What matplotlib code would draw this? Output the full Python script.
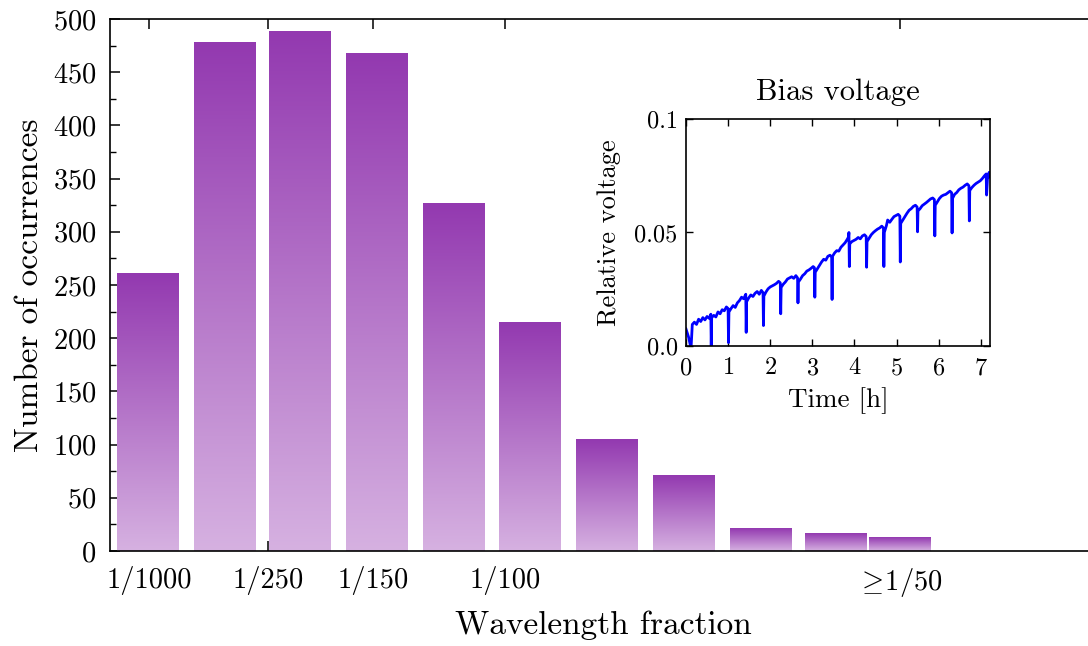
import numpy as np
import matplotlib
matplotlib.use('Agg')
import matplotlib.pyplot as plt
from matplotlib.colors import LinearSegmentedColormap

plt.rcParams['font.family'] = 'serif'
plt.rcParams['font.serif'] = ['cmr10']
plt.rcParams['mathtext.fontset'] = 'cm'
plt.rcParams['axes.formatter.use_mathtext'] = True

# histogram of wavelength fractions
bin_centers = [0.00094, 0.00289, 0.00481, 0.00676, 0.00871, 0.01063,
               0.01258, 0.01451, 0.01646, 0.01838, 0.0200]
counts = [261, 478, 488, 468, 327, 215, 105, 71, 21, 16, 13]
tick_values = [1 / 1000, 1 / 250, 1 / 150, 1 / 100, 1 / 50]
tick_labels = ['1/1000', '1/250', '1/150', '1/100', r'$\geq\!$1/50']

# bias voltage drift (inset)
time_h = [0.00, 0.06, 0.12, 0.15, 0.20, 0.25, 0.30, 0.35, 0.40, 0.45, 0.50, 0.55, 0.59,
          0.60, 0.61, 0.66, 0.71, 0.76, 0.81, 0.86, 0.91, 0.96, 1.00,
          1.01, 1.02, 1.07, 1.12, 1.17, 1.22, 1.27, 1.32, 1.37, 1.42,
          1.43, 1.44, 1.49, 1.54, 1.59, 1.64, 1.69, 1.74, 1.79, 1.83,
          1.84, 1.85, 1.90, 1.95, 2.00, 2.05, 2.10, 2.15, 2.20, 2.24,
          2.25, 2.26, 2.31, 2.36, 2.41, 2.46, 2.51, 2.56, 2.61, 2.65,
          2.66, 2.67, 2.72, 2.77, 2.82, 2.87, 2.92, 2.97, 3.02, 3.05,
          3.06, 3.07, 3.12, 3.17, 3.22, 3.27, 3.32, 3.37, 3.42, 3.46,
          3.47, 3.48, 3.53, 3.58, 3.63, 3.68, 3.73, 3.78, 3.83, 3.86, 3.87,
          3.88, 3.89, 3.94, 3.99, 4.04, 4.09, 4.14, 4.19, 4.24, 4.28,
          4.29, 4.30, 4.35, 4.40, 4.45, 4.50, 4.55, 4.60, 4.65, 4.69,
          4.70, 4.71, 4.76, 4.79, 4.84, 4.89, 4.94, 4.99, 5.04, 5.08,
          5.09, 5.10, 5.15, 5.20, 5.25, 5.30, 5.35, 5.40, 5.45, 5.49,
          5.50, 5.51, 5.56, 5.61, 5.66, 5.71, 5.76, 5.81, 5.86, 5.90,
          5.91, 5.92, 5.97, 6.02, 6.07, 6.12, 6.17, 6.22, 6.27, 6.31,
          6.32, 6.33, 6.38, 6.43, 6.48, 6.53, 6.58, 6.63, 6.68, 6.72,
          6.73, 6.74, 6.79, 6.84, 6.89, 6.94, 6.99, 7.04, 7.09, 7.13,
          7.14, 7.16, 7.20, 7.22]
rel_voltage = [0.0075, 0.0040, -0.0010, 0.0095, 0.0105, 0.0095, 0.0118, 0.0108, 0.0125, 0.0115, 0.0130, 0.0122, 0.0140,
               0.0000, 0.0125, 0.0135, 0.0128, 0.0150, 0.0142, 0.0160, 0.0155, 0.0172, 0.0165,
               0.0015, 0.0150, 0.0165, 0.0178, 0.0170, 0.0190, 0.0200, 0.0215, 0.0208, 0.0228,
               0.0060, 0.0195, 0.0212, 0.0225, 0.0218, 0.0232, 0.0240, 0.0228, 0.0245, 0.0235,
               0.0090, 0.0220, 0.0238, 0.0252, 0.0260, 0.0265, 0.0270, 0.0276, 0.0285, 0.0278,
               0.0142, 0.0258, 0.0272, 0.0282, 0.0295, 0.0300, 0.0305, 0.0298, 0.0310, 0.0300,
               0.0190, 0.0282, 0.0295, 0.0310, 0.0318, 0.0330, 0.0335, 0.0342, 0.0350, 0.0345,
               0.0215, 0.0325, 0.0340, 0.0355, 0.0370, 0.0382, 0.0378, 0.0395, 0.0400, 0.0392,
               0.0205, 0.0395, 0.0410, 0.0420, 0.0418, 0.0435, 0.0445, 0.0455, 0.0470, 0.0480, 0.0500,
               0.0350, 0.0450, 0.0460, 0.0465, 0.0470, 0.0478, 0.0472, 0.0485, 0.0490, 0.0482,
               0.0347, 0.0460, 0.0475, 0.0490, 0.0500, 0.0508, 0.0515, 0.0520, 0.0528, 0.0520,
               0.0350, 0.0500, 0.0530, 0.0555, 0.0545, 0.0558, 0.0570, 0.0575, 0.0580, 0.0572,
               0.0370, 0.0540, 0.0555, 0.0570, 0.0585, 0.0598, 0.0605, 0.0615, 0.0620, 0.0612,
               0.0503, 0.0595, 0.0605, 0.0618, 0.0625, 0.0632, 0.0640, 0.0648, 0.0652, 0.0645,
               0.0485, 0.0620, 0.0635, 0.0650, 0.0660, 0.0665, 0.0668, 0.0675, 0.0682, 0.0675,
               0.0498, 0.0650, 0.0668, 0.0676, 0.0688, 0.0695, 0.0700, 0.0708, 0.0714, 0.0706,
               0.0551, 0.0685, 0.0698, 0.0708, 0.0716, 0.0722, 0.0728, 0.0738, 0.0750, 0.0758,
               0.0665, 0.0735, 0.0765, 0.0745]

fig = plt.figure(figsize=(10.88, 6.46), dpi=100)
ax = fig.add_axes([0.1011, 0.1471, 0.9076, 0.8235])

bar_width = 0.00155
grad = LinearSegmentedColormap.from_list('purp', ['#d6b1e1', '#9339b0'])
gradient = np.linspace(0, 1, 256).reshape(-1, 1)
for xc, h in zip(bin_centers, counts):
    ax.imshow(gradient, cmap=grad, origin='lower', aspect='auto',
              extent=[xc - bar_width / 2, xc + bar_width / 2, 0, h], zorder=2)

ax.set_xlim(0, 0.025)
ax.set_ylim(0, 500)
ax.set_xticks(tick_values)
ax.set_xticklabels(tick_labels)
ax.set_yticks(np.arange(0, 501, 50))
ax.set_yticks(np.arange(25, 500, 50), minor=True)
ax.tick_params(axis='both', which='major', direction='in', length=7, width=1.1,
               labelsize=20.5, top=True, right=False)
ax.tick_params(axis='x', pad=11)
ax.tick_params(axis='y', pad=10)
ax.tick_params(axis='y', which='minor', direction='in', length=4, width=1.0, right=False)
for sp in ax.spines.values():
    sp.set_linewidth(1.2)
ax.set_xlabel('Wavelength fraction', fontsize=24, labelpad=8)
ax.set_ylabel('Number of occurrences', fontsize=24)
ax.yaxis.set_label_coords(-0.067, 0.5)

# inset
ins = fig.add_axes([0.6305, 0.4644, 0.2794, 0.3514])
ins.plot(time_h, rel_voltage, color='#0000ff', lw=2.0)
ins.set_xlim(0, 7.22)
ins.set_ylim(0, 0.1)
ins.set_xticks(range(0, 8))
ins.set_yticks([0.0, 0.05, 0.1])
ins.set_yticklabels(['0.0', '0.05', '0.1'])
ins.tick_params(direction='in', length=5, width=1.0, labelsize=17.5, top=True, right=True)
ins.tick_params(axis='y', pad=6)
ins.tick_params(axis='x', pad=8)
for sp in ins.spines.values():
    sp.set_linewidth(1.2)
ins.set_xlabel('Time [h]', fontsize=19.5, labelpad=6)
ins.set_ylabel('Relative voltage', fontsize=19)
ins.yaxis.set_label_coords(-0.214, 0.5)
ins.set_title('Bias voltage', fontsize=22, pad=14)

fig.savefig('out.png', dpi=100)
